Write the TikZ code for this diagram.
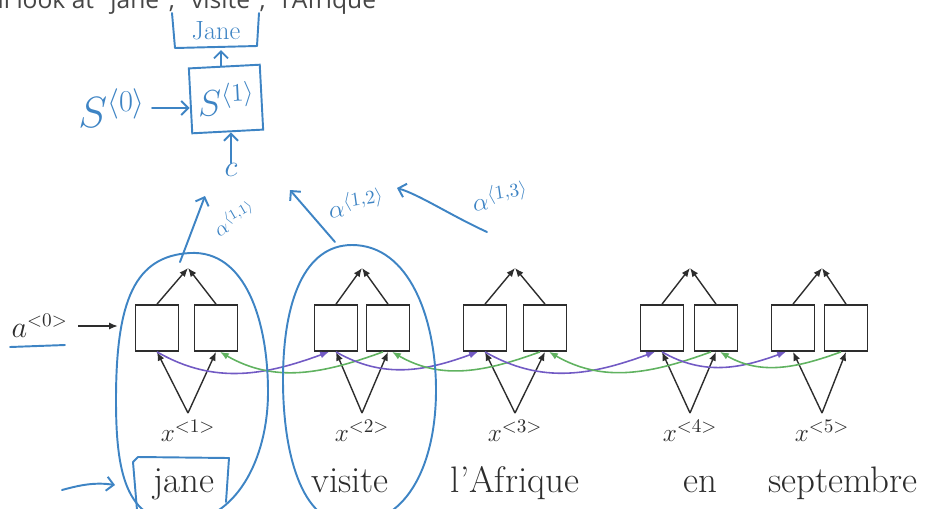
\documentclass[tikz,border=0pt]{standalone}
\usepackage{amsmath}
\usepackage{fontspec}
\newfontfamily\uifont{Open Sans}
\usetikzlibrary{arrows.meta, positioning, calc}

\definecolor{penblue}{RGB}{62,132,196}
\definecolor{fwdpurple}{RGB}{114,90,196}
\definecolor{bwdgreen}{RGB}{96,178,96}
\definecolor{inkgray}{RGB}{45,45,45}
\definecolor{uigray}{RGB}{70,70,70}

\begin{document}
\begin{tikzpicture}[x=0.02cm, y=0.02cm,
    cell/.style={draw=inkgray, line width=1pt, minimum width=0.86cm, minimum height=0.92cm, inner sep=0pt},
    link/.style={inkgray, line width=0.8pt, -{Latex[length=5pt,width=4pt]}},
    fwd/.style={fwdpurple, line width=0.9pt, -{Latex[length=5pt,width=4pt]}},
    bwd/.style={bwdgreen, line width=0.9pt, -{Latex[length=5pt,width=4pt]}},
    pen/.style={penblue, line width=1.1pt, line cap=round, line join=round},
    penarrow/.style={pen, -{Straight Barb[length=4pt,width=8pt]}},
    word/.style={inkgray, font=\fontsize{21}{25}\selectfont, inner sep=0pt},
    inp/.style={inkgray, font=\fontsize{15}{18}\selectfont, inner sep=0pt},
    hand/.style={penblue, inner sep=0pt},
  ]
  \useasboundingbox (0,0) rectangle (925,-508);

  % caption line, cut by the top edge
  \begin{scope}
    \clip (0,0) rectangle (925,-508);
    \node[anchor=base east, inner sep=0pt, text=uigray, font=\uifont\fontsize{14}{16}\selectfont]
      (caption) at (386,-8) {will look at "jane", "visite", "l'Afrique"};
  \end{scope}

  % bidirectional RNN
  \foreach \i/\xa/\xb/\xt in {1/157/216/188, 2/336/388/362, 3/485/545/515, 4/662/716/690, 5/793/846/822} {
    \node[cell] (f\i) at (\xa,-328) {};
    \node[cell] (b\i) at (\xb,-328) {};
    \coordinate (y\i) at (\xt,-268);
    \coordinate (in\i) at (\xt,-413);
    \draw[link] (f\i.north) -- (y\i);
    \draw[link] (b\i.north) -- (y\i);
    \draw[link] (in\i) -- (f\i.south);
    \draw[link] (in\i) -- (b\i.south);
    \node[inp, anchor=north] (x\i) at (\xt,-420) {$x^{<\i>}$};
  }
  \foreach \i/\j in {1/2, 2/3, 3/4, 4/5} {
    \draw[fwd] (f\i.south) to[out=-30, in=-160] ($(f\j.south)+(-7,0)$);
    \draw[bwd] ($(b\j.south)+(-5,0)$) to[out=-160, in=-30] ($(b\i.south)+(4,0)$);
  }

  \node[word, anchor=base] (w1) at (184,-492) {jane};
  \node[word, anchor=base] (w2) at (350,-492) {visite};
  \node[word, anchor=base] (w3) at (515,-492) {l'Afrique};
  \node[word, anchor=base] (w4) at (700,-492) {en};
  \node[word, anchor=base] (w5) at (843,-492) {septembre};

  \node[inp, anchor=east, font=\fontsize{16}{18}\selectfont] (a0) at (68,-326) {$a^{<0>}$};
  \coordinate (a0tip) at (118,-326);
  \draw[link, line width=1pt] ($(a0.east)+(10,0)$) -- (a0tip);

  % handwritten attention part
  \draw[pen] (10,-347) -- (65,-345);
  \draw[pen] (190,-253) .. controls (245,-250) and (268,-320) .. (268,-392)
    .. controls (268,-460) and (235,-522) .. (180,-522)
    .. controls (125,-522) and (116,-470) .. (116,-400)
    .. controls (116,-300) and (135,-256) .. (190,-253);
  \draw[pen] (352,-245) .. controls (410,-245) and (436,-320) .. (436,-390)
    .. controls (436,-460) and (410,-524) .. (350,-524)
    .. controls (300,-524) and (283,-450) .. (283,-380)
    .. controls (283,-300) and (305,-245) .. (352,-245);
  \draw[pen] (137,-510) -- (133,-462) -- (138,-457) -- (229,-458) -- (226,-502);
  \draw[penarrow] (62,-490) .. controls (80,-485) and (95,-482) .. (115,-485);

  \coordinate (e1) at (180,-262);
  \coordinate (e2) at (335,-242);
  \coordinate (e3) at (487,-232);
  \coordinate (c1) at (205,-196);
  \coordinate (c2) at (290,-190);
  \coordinate (c3) at (397,-188);
  \draw[penarrow] (e1) -- (c1);
  \draw[penarrow] (e2) -- (c2);
  \draw[penarrow] (e3) .. controls (450,-215) and (420,-195) .. (c3);
  \node[hand, rotate=30, font=\fontsize{12}{14}\selectfont] (al1) at (234,-218) {$\alpha^{\langle 1,1\rangle}$};
  \node[hand, rotate=8, font=\fontsize{15}{17}\selectfont] (al2) at (356,-203) {$\alpha^{\langle 1,2\rangle}$};
  \node[hand, rotate=8, font=\fontsize{15}{17}\selectfont] (al3) at (500,-196) {$\alpha^{\langle 1,3\rangle}$};

  \node[hand, font=\fontsize{18}{20}\selectfont] (ctx) at (231,-170) {$c$};
  \node[hand, draw=penblue, line width=1.1pt, rotate=3, minimum width=1.42cm, minimum height=1.3cm,
    font=\fontsize{20}{24}\selectfont] (s1) at (226,-99) {$S^{\langle 1\rangle}$};
  \node[hand, font=\fontsize{26}{30}\selectfont] (s0) at (112,-108) {$S^{\langle 0\rangle}$};
  \draw[penarrow] (ctx.north) -- (ctx.north |- s1.south);
  \draw[penarrow] (s0.east) ++(6,0) -- (s1.west |- s0.east);

  \node[hand, font=\fontsize{15}{18}\selectfont] (yhat) at (216,-31) {Jane};
  \draw[pen] (172,-13) -- (175,-48) -- (257,-46) -- (259,-13);
  \coordinate (yhatin) at (221,-50);
  \draw[penarrow] (s1.north -| yhatin) -- (yhatin);
\end{tikzpicture}
\end{document}
